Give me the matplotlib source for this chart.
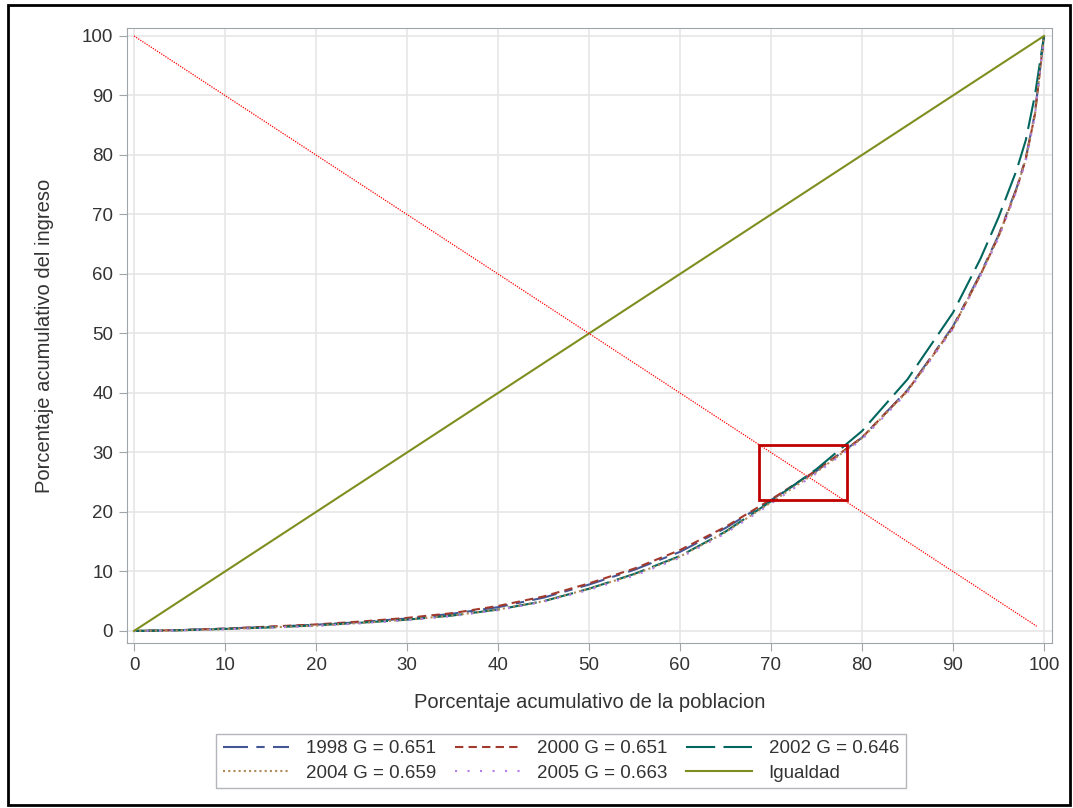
import matplotlib
matplotlib.use("Agg")
import matplotlib.pyplot as plt
from matplotlib.lines import Line2D
from matplotlib.patches import Rectangle

plt.rcParams['font.family'] = ['Liberation Sans', 'DejaVu Sans']

# Cumulative population share (%)
pop = [0, 5, 10, 15, 20, 25, 30, 35, 40, 45, 50, 55, 60, 65, 70, 75, 80, 85, 90, 93, 95, 97, 98, 99, 100]
# Cumulative income share (%) per year
y1998 = [0, 0.15, 0.4, 0.7, 1.05, 1.5, 2.1, 2.9, 4.0, 5.6, 7.8, 10.3, 13.3, 17.3, 22.0, 26.9, 32.5, 40.5, 51.2, 60.0, 66.5, 74.5, 79.5, 87.0, 100]
y2000 = [0, 0.15, 0.4, 0.75, 1.1, 1.6, 2.2, 3.0, 4.2, 5.8, 8.0, 10.5, 13.6, 17.5, 22.1, 27.0, 32.5, 40.4, 51.0, 59.8, 66.3, 74.3, 79.3, 86.8, 100]
y2002 = [0, 0.12, 0.35, 0.6, 0.95, 1.4, 1.9, 2.6, 3.6, 5.0, 7.1, 9.6, 12.6, 16.7, 21.8, 27.2, 33.6, 42.3, 53.5, 62.5, 69.5, 77.5, 82.5, 90.0, 100]
y2004 = [0, 0.1, 0.3, 0.6, 0.9, 1.35, 1.9, 2.6, 3.6, 5.0, 7.1, 9.5, 12.5, 16.6, 21.6, 26.7, 32.4, 40.3, 51.0, 59.8, 66.3, 74.3, 79.3, 86.8, 100]
y2005 = [0, 0.1, 0.3, 0.55, 0.85, 1.3, 1.8, 2.5, 3.5, 4.9, 6.9, 9.3, 12.3, 16.4, 21.4, 26.5, 32.2, 40.1, 50.8, 59.6, 66.0, 74.0, 79.0, 86.5, 100]
igualdad = [0, 100]
diag_x = [0, 99.2]
diag_y = [100, 0.8]
box_x = [68.7, 78.3]
box_y = [22.0, 31.3]

labels = ["1998 G = 0.651", "2000 G = 0.651", "2002 G = 0.646",
          "2004 G = 0.659", "2005 G = 0.663", "Igualdad"]
colors = ["#445694", "#A23A2E", "#01665E", "#B08A5A", "#B57EEB", "#7F8E1F"]
styles = [(0, (12, 4, 4, 4)), (0, (4, 2.5)), (0, (14, 4)), (0, (1, 1.5)), (0, (1, 5)), "-"]

fig = plt.figure(figsize=(10.73, 8.08), dpi=100)
ax = fig.add_axes([127/1073, 1-643/808, (1052-127)/1073, (643-28)/808])

series = [y1998, y2000, y2002, y2004, y2005]
for ys, c, ls in zip(series, colors[:5], styles[:5]):
    ax.plot(pop, ys, color=c, linestyle=ls, linewidth=1.5)
ax.plot(igualdad, igualdad, color=colors[5], linewidth=1.5)
ax.plot(diag_x, diag_y, color="red", linestyle=(0, (1, 1)), linewidth=0.9)
ax.add_patch(Rectangle((box_x[0], box_y[0]), box_x[1]-box_x[0], box_y[1]-box_y[0],
                       fill=False, edgecolor="#C00000", linewidth=2, zorder=5))

ax.set_xlim(-0.77, 100.88)
ax.set_ylim(-2.02, 101.34)
ax.set_xticks(range(0, 101, 10))
ax.set_yticks(range(0, 101, 10))
ax.grid(True, color="#E6E6E6", linewidth=1.2)
ax.set_axisbelow(True)
for s in ax.spines.values():
    s.set_color("#A0A5AA")
ax.tick_params(direction="out", length=6, color="#A0A5AA", labelsize=13.5, labelcolor="#333333", pad=4)
ax.set_xlabel("Porcentaje acumulativo de la poblacion", fontsize=14.5, color="#333333", labelpad=14)
ax.set_ylabel("Porcentaje acumulativo del ingreso", fontsize=14.5, color="#333333", labelpad=20)

handles = [Line2D([], [], color=c, linestyle=ls, linewidth=1.5) for c, ls in zip(colors, styles)]
order = [0, 3, 1, 4, 2, 5]
leg = fig.legend([handles[i] for i in order], [labels[i] for i in order], ncol=3,
                 loc="center", bbox_to_anchor=(561/1073, 1-761/808), fontsize=13.5,
                 frameon=True, fancybox=False, handlelength=3.5, columnspacing=1.0,
                 handletextpad=0.9, borderpad=0.35, labelspacing=0.4)
leg.get_frame().set_edgecolor("#A0A5AA")
for t in leg.get_texts():
    t.set_color("#333333")

fig.patches.append(Rectangle((8/1073, 3/808), 1062/1073, 800/808, transform=fig.transFigure,
                             fill=False, edgecolor="black", linewidth=2))
fig.savefig("out.png", dpi=100)
